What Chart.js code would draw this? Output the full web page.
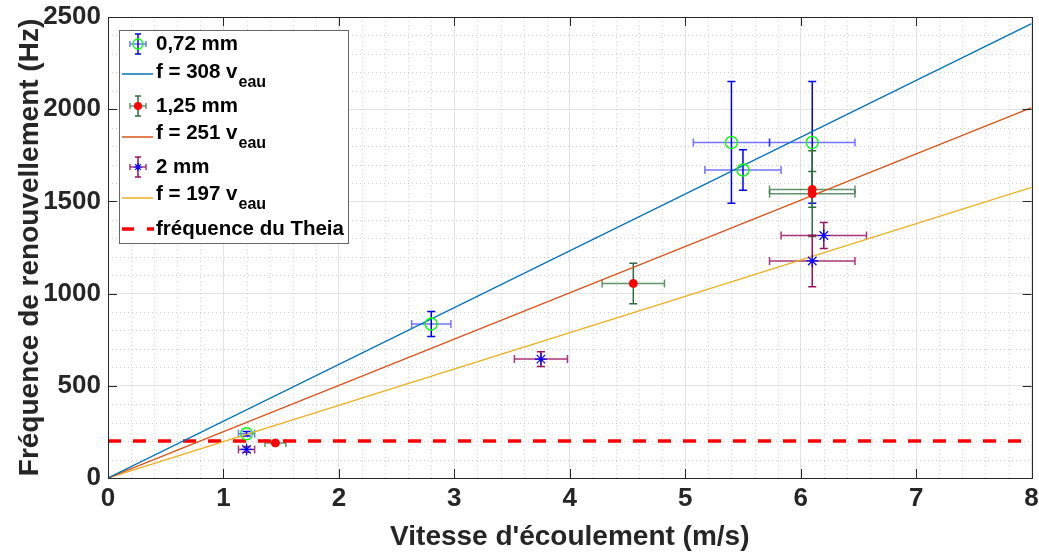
<!DOCTYPE html>
<html><head><meta charset="utf-8">
<script src="https://cdn.jsdelivr.net/npm/chart.js@4/dist/chart.umd.min.js"></script>
<style>html,body{margin:0;padding:0;background:#fff}#wrap{width:1039px;height:554px;position:relative}</style>
</head><body><div id="wrap"><canvas id="c" width="1039" height="554"></canvas></div>
<script>
// ---- data ----
const s1X=[1.2,2.8,5.4,5.5,6.1];
const s1Y=[240,835,1820,1670,1820];
const s1Xerr=[0.07,0.17,0.33,0.33,0.37];
const s1Yerr=[12,68,330,110,330];
const s2X=[1.45,4.55,6.1,6.1];
const s2Y=[190,1055,1565,1542];
const s2Xerr=[0.09,0.27,0.37,0.37];
const s2Yerr=[6,110,97,233];
const s3X=[1.2,3.75,6.2,6.1];
const s3Y=[155,645,1315,1177];
const s3Xerr=[0.07,0.23,0.37,0.37];
const s3Yerr=[15,40,70,140];
const fitX=[0,8];
const fit308=[0,2464];
const fit251=[0,2008];
const fit197=[0,1576];
const theiaX=[0,8];
const theiaY=[200,200];
const xTickValues=[0,1,2,3,4,5,6,7,8];
const yTickValues=[0,500,1000,1500,2000,2500];
const legendLabels=['0,72 mm','f = 308 v','1,25 mm','f = 251 v','2 mm','f = 197 v','fréquence du Theia'];

const FONT='"Liberation Sans", Arial, Helvetica, sans-serif';
const TXT='#262626';
const pts=(xs,ys)=>xs.map((x,i)=>({x:x,y:ys[i]}));

const errSets=[
  {x:s1X,y:s1Y,xe:s1Xerr,ye:s1Yerr,vcol:'#0000ff',hcol:'rgba(0,0,255,0.55)'},
  {x:s2X,y:s2Y,xe:s2Xerr,ye:s2Yerr,vcol:'#2f6f3a',hcol:'rgba(47,111,58,0.75)'},
  {x:s3X,y:s3Y,xe:s3Xerr,ye:s3Yerr,vcol:'#99125f',hcol:'rgba(153,18,95,0.85)'}
];

const plug={
  id:'custom',
  beforeDatasetsDraw(chart){
    const ctx=chart.ctx, a=chart.chartArea, xs=chart.scales.x, ys=chart.scales.y;
    ctx.save();
    ctx.strokeStyle='#cdcdcd'; ctx.lineWidth=1; ctx.setLineDash([1,3]);
    for(let i=0;i<=40;i++){ if(i%5===0) continue; const px=Math.round(xs.getPixelForValue(i*0.2))+0.5;
      ctx.beginPath(); ctx.moveTo(px,a.top); ctx.lineTo(px,a.bottom); ctx.stroke(); }
    for(let i=0;i<=25;i++){ if(i%5===0) continue; const py=Math.round(ys.getPixelForValue(i*100))+0.5;
      ctx.beginPath(); ctx.moveTo(a.left,py); ctx.lineTo(a.right,py); ctx.stroke(); }
    ctx.setLineDash([]);
    const cap=4;
    errSets.forEach(s=>{
      ctx.lineWidth=1.5;
      s.x.forEach((xv,i)=>{
        const cx=xs.getPixelForValue(xv), cy=ys.getPixelForValue(s.y[i]);
        const x0=xs.getPixelForValue(xv-s.xe[i]), x1=xs.getPixelForValue(xv+s.xe[i]);
        const y0=ys.getPixelForValue(s.y[i]-s.ye[i]), y1=ys.getPixelForValue(s.y[i]+s.ye[i]);
        ctx.strokeStyle=s.hcol;
        ctx.beginPath(); ctx.moveTo(x0,cy); ctx.lineTo(x1,cy);
        ctx.moveTo(x0,cy-cap); ctx.lineTo(x0,cy+cap); ctx.moveTo(x1,cy-cap); ctx.lineTo(x1,cy+cap); ctx.stroke();
        ctx.strokeStyle=s.vcol;
        ctx.beginPath(); ctx.moveTo(cx,y0); ctx.lineTo(cx,y1);
        ctx.moveTo(cx-cap,y0); ctx.lineTo(cx+cap,y0); ctx.moveTo(cx-cap,y1); ctx.lineTo(cx+cap,y1); ctx.stroke();
      });
    });
    ctx.restore();
  },
  afterDraw(chart){
    const ctx=chart.ctx, a=chart.chartArea, xs=chart.scales.x, ys=chart.scales.y;
    ctx.save();
    ctx.strokeStyle=TXT; ctx.lineWidth=1;
    ctx.strokeRect(Math.round(a.left)+0.5,Math.round(a.top)+0.5,Math.round(a.right-a.left),Math.round(a.bottom-a.top));
    ctx.beginPath();
    xTickValues.forEach(v=>{const px=Math.round(xs.getPixelForValue(v))+0.5;
      ctx.moveTo(px,a.bottom); ctx.lineTo(px,a.bottom-9); ctx.moveTo(px,a.top); ctx.lineTo(px,a.top+9);});
    yTickValues.forEach(v=>{const py=Math.round(ys.getPixelForValue(v))+0.5;
      ctx.moveTo(a.left,py); ctx.lineTo(a.left+9,py); ctx.moveTo(a.right,py); ctx.lineTo(a.right-9,py);});
    ctx.stroke();
    const L=119,T=30,W=229,H=213;
    ctx.fillStyle='#fff'; ctx.fillRect(L,T,W,H);
    ctx.strokeStyle='#666'; ctx.lineWidth=1; ctx.strokeRect(L+0.5,T+0.5,W,H);
    const sx=138, tx=156;
    const rowY=[44,72,106,133,167,194,229];
    const lineY=[null,74,null,137,null,198,null];
    const drawErr=(cy,s,mark)=>{
      ctx.lineWidth=1.5;
      ctx.strokeStyle=s.hcol; ctx.beginPath(); ctx.moveTo(sx-8,cy); ctx.lineTo(sx+8,cy);
      ctx.moveTo(sx-8,cy-3); ctx.lineTo(sx-8,cy+3); ctx.moveTo(sx+8,cy-3); ctx.lineTo(sx+8,cy+3); ctx.stroke();
      ctx.strokeStyle=s.vcol; ctx.beginPath(); ctx.moveTo(sx,cy-10); ctx.lineTo(sx,cy+10);
      ctx.moveTo(sx-3,cy-10); ctx.lineTo(sx+3,cy-10); ctx.moveTo(sx-3,cy+10); ctx.lineTo(sx+3,cy+10); ctx.stroke();
      mark(cy);
    };
    drawErr(rowY[0],errSets[0],cy=>{ctx.strokeStyle='#00ff00';ctx.lineWidth=1.3;ctx.beginPath();ctx.arc(sx,cy,5,0,Math.PI*2);ctx.stroke();});
    drawErr(rowY[2],errSets[1],cy=>{ctx.fillStyle='#ff0000';ctx.beginPath();ctx.arc(sx,cy,4,0,Math.PI*2);ctx.fill();});
    drawErr(rowY[4],errSets[2],cy=>{ctx.strokeStyle='#0000ff';ctx.lineWidth=1.2;ctx.beginPath();
      for(let k=0;k<4;k++){const an=k*Math.PI/4;ctx.moveTo(sx-4*Math.cos(an),cy-4*Math.sin(an));ctx.lineTo(sx+4*Math.cos(an),cy+4*Math.sin(an));}ctx.stroke();});
    const fitCols=['#0072BD','#D95319','#EDB120'];
    [1,3,5].forEach((r,k)=>{ctx.strokeStyle=fitCols[k];ctx.lineWidth=1.5;ctx.beginPath();ctx.moveTo(122,lineY[r]);ctx.lineTo(153,lineY[r]);ctx.stroke();});
    ctx.strokeStyle='#ff0000'; ctx.lineWidth=3.5; ctx.beginPath(); ctx.moveTo(122,rowY[6]); ctx.lineTo(134,rowY[6]); ctx.moveTo(147,rowY[6]); ctx.lineTo(154,rowY[6]); ctx.stroke();
    ctx.fillStyle='#000'; ctx.textBaseline='middle'; ctx.textAlign='left';
    legendLabels.forEach((t,i)=>{
      ctx.font='bold 20.5px '+FONT;
      ctx.fillText(t,tx,rowY[i]);
      if(i===1||i===3||i===5){const w=ctx.measureText(t).width; ctx.font='bold 16px '+FONT; ctx.fillText('eau',tx+w+1,rowY[i]+11);}
    });
    ctx.restore();
  }
};

new Chart(document.getElementById('c'),{
  type:'scatter',
  data:{datasets:[
    {label:'0,72 mm',data:pts(s1X,s1Y),pointStyle:'circle',pointRadius:6,pointBorderColor:'#00ff00',pointBackgroundColor:'rgba(0,0,0,0)',pointBorderWidth:1.4,showLine:false,order:1},
    {label:'f = 308 v',data:pts(fitX,fit308),showLine:true,borderColor:'#0072BD',borderWidth:1.3,pointRadius:0,order:4},
    {label:'1,25 mm',data:pts(s2X,s2Y),pointStyle:'circle',pointRadius:4,pointBorderColor:'#ff0000',pointBackgroundColor:'#ff0000',pointBorderWidth:1,showLine:false,order:2},
    {label:'f = 251 v',data:pts(fitX,fit251),showLine:true,borderColor:'#D95319',borderWidth:1.3,pointRadius:0,order:5},
    {label:'2 mm',data:pts(s3X,s3Y),pointStyle:'star',pointRadius:6,pointBorderColor:'#0000ff',pointBackgroundColor:'#0000ff',pointBorderWidth:1.2,showLine:false,order:3},
    {label:'f = 197 v',data:pts(fitX,fit197),showLine:true,borderColor:'#EDB120',borderWidth:1.3,pointRadius:0,order:6},
    {label:'fréquence du Theia',data:pts(theiaX,theiaY),showLine:true,borderColor:'#ff0000',borderWidth:3.5,borderDash:[13,12],pointRadius:0,order:7}
  ]},
  options:{
    responsive:false,maintainAspectRatio:false,animation:false,
    devicePixelRatio:1,
    layout:{padding:{top:17,right:7,left:0,bottom:0}},
    plugins:{legend:{display:false},tooltip:{enabled:false}},
    scales:{
      x:{type:'linear',min:0,max:8,
        afterBuildTicks:s=>{s.ticks=xTickValues.map(v=>({value:v}));},
        afterFit:s=>{s.height=76;s.paddingLeft=0;s.paddingRight=0;},
        ticks:{font:{family:FONT,size:26,weight:'bold'},color:TXT,padding:5,maxRotation:0,callback:v=>String(v)},
        grid:{color:'#e3e3e3',lineWidth:1,drawTicks:false},
        border:{display:false},
        title:{display:true,text:"Vitesse d'écoulement (m/s)",font:{family:FONT,size:28,weight:'bold'},color:TXT,padding:{top:0,bottom:0}}
      },
      y:{type:'linear',min:0,max:2500,
        afterBuildTicks:s=>{s.ticks=yTickValues.map(v=>({value:v}));},
        afterFit:s=>{s.width=108;s.paddingTop=0;s.paddingBottom=0;},
        ticks:{font:{family:FONT,size:26,weight:'bold'},color:TXT,padding:7,callback:v=>String(v)},
        grid:{color:'#e3e3e3',lineWidth:1,drawTicks:false},
        border:{display:false},
        title:{display:true,text:'Fréquence de renouvellement (Hz)',font:{family:FONT,size:28,weight:'bold'},color:TXT,padding:{top:13,bottom:0}}
      }
    }
  },
  plugins:[plug]
});
</script></body></html>
